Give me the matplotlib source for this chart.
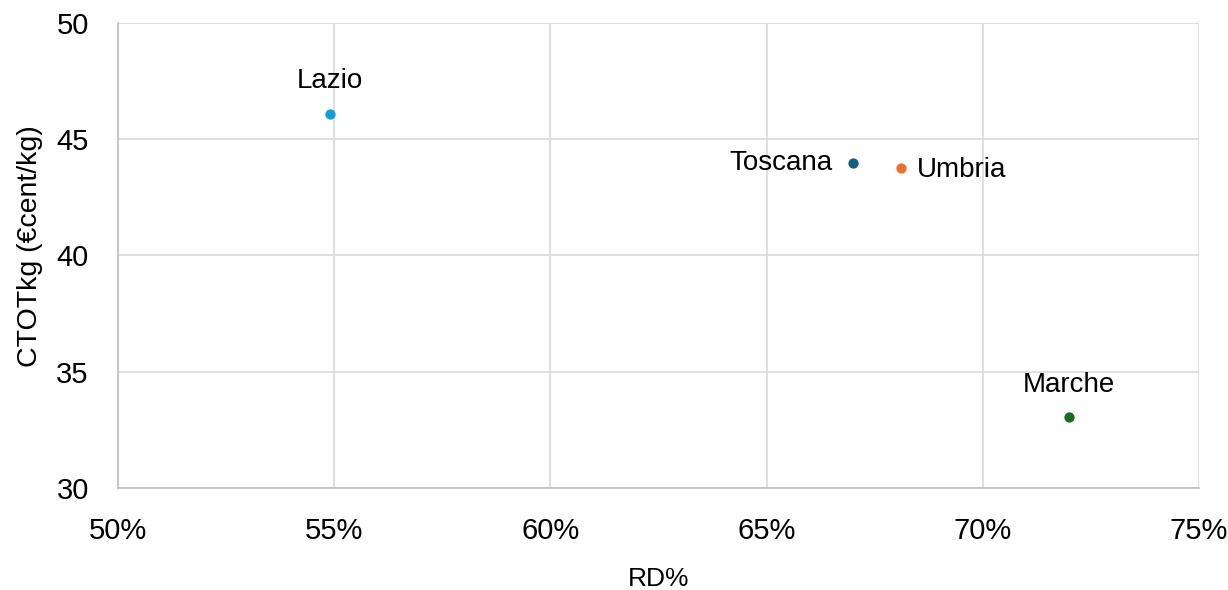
import matplotlib.pyplot as plt
from matplotlib.ticker import FuncFormatter

# regions, RD% and CTOTkg values
regions = ["Lazio", "Toscana", "Umbria", "Marche"]
rd_pct = [54.9, 67.0, 68.1, 72.0]
ctot_kg = [46.1, 44.0, 43.75, 33.05]
colors = ["#0F9ED5", "#156082", "#E97132", "#196B24"]
label_pos = ["above", "left", "right", "above"]

plt.rcParams['font.family'] = ['Liberation Sans', 'DejaVu Sans']

fig = plt.figure(figsize=(12.28, 5.9), dpi=100)
ax = fig.add_axes([0.0961, 0.1729, 0.8803, 0.7881])

for name, x, y, c, pos in zip(regions, rd_pct, ctot_kg, colors, label_pos):
    ax.scatter(x, y, s=55, color=c, zorder=3, linewidths=0)
    if pos == "above":
        ax.annotate(name, (x, y), xytext=(0, 14), textcoords="offset points",
                    ha="center", va="bottom", fontsize=20, color="black")
    elif pos == "left":
        ax.annotate(name, (x, y), xytext=(-15, 0), textcoords="offset points",
                    ha="right", va="center", fontsize=20, color="black")
    else:
        ax.annotate(name, (x, y), xytext=(12, -1), textcoords="offset points",
                    ha="left", va="center", fontsize=20, color="black")

ax.set_xlim(50, 75)
ax.set_ylim(30, 50)
ax.set_xticks(range(50, 76, 5))
ax.set_yticks(range(30, 51, 5))
ax.xaxis.set_major_formatter(FuncFormatter(lambda v, p: f"{int(v)}%"))

ax.grid(True, color="#d9d9d9", linewidth=1.2)
ax.set_axisbelow(True)
for s in ["top", "right"]:
    ax.spines[s].set_visible(False)
for s in ["left", "bottom"]:
    ax.spines[s].set_color("#bfbfbf")
    ax.spines[s].set_linewidth(1.2)
ax.tick_params(length=0, labelsize=21)
ax.tick_params(axis="x", pad=21)
ax.tick_params(axis="y", pad=21)

ax.set_xlabel("RD%", fontsize=19, labelpad=16)
ax.set_ylabel("CTOTkg (€cent/kg)", fontsize=20.5)
ax.yaxis.set_label_coords(-0.069, 0.52)

fig.savefig("out.png", dpi=100)
